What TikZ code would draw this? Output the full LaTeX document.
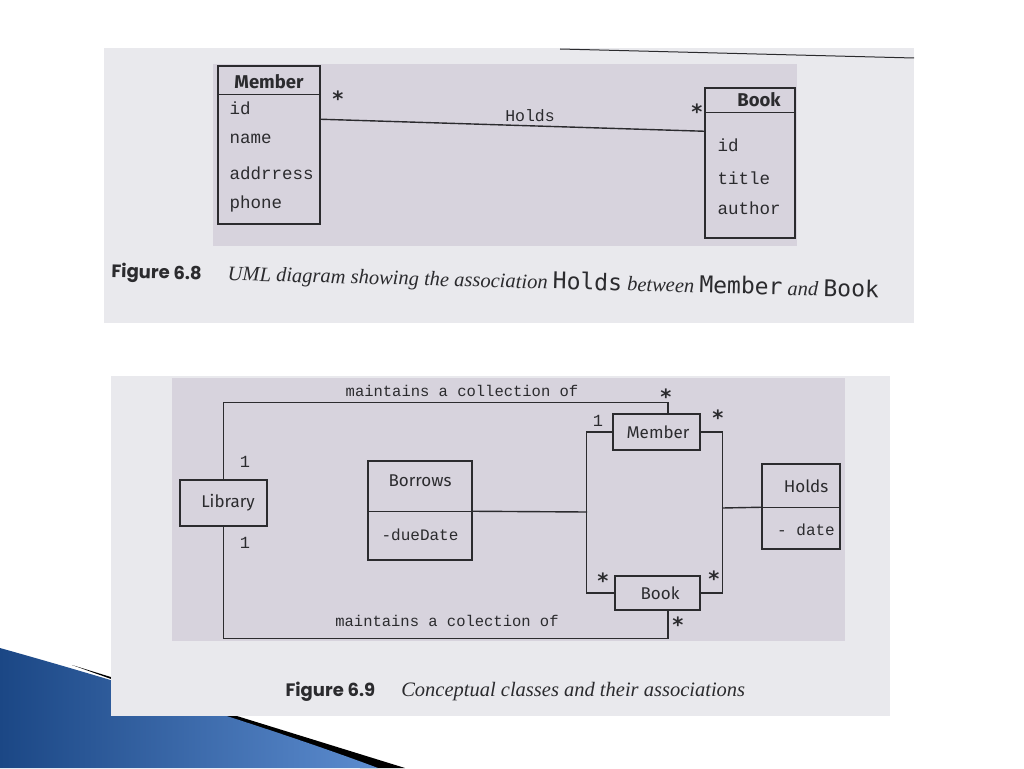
\documentclass[tikz,border=0pt]{standalone}
\usepackage{fontspec}
\setmainfont{Liberation Serif}
\setsansfont{Fira Sans}
\setmonofont{Liberation Mono}
\newfontfamily\capmono{DejaVu Sans Mono}
\newfontfamily\figfont{Poppins}
\usetikzlibrary{shapes}
\usetikzlibrary{arrows}
\definecolor{ink}{HTML}{2B2B2E}
\definecolor{paper}{HTML}{E9E9ED}
\definecolor{hatch}{HTML}{D7D3DD}
\definecolor{swoopA}{HTML}{1B4785}
\definecolor{swoopB}{HTML}{5C8CCF}

\begin{document}
\begin{tikzpicture}[x=1pt,y=-1pt]
	\tikzstyle{cls}=[rectangle,draw=ink,line width=1.5pt,inner sep=0pt]
	\tikzstyle{head}=[text=ink,font=\sffamily\fontsize{17}{17}\selectfont]
	\tikzstyle{bhead}=[text=ink,font=\sffamily\bfseries\fontsize{18.5}{18.5}\selectfont]
	\tikzstyle{attr}=[text=ink,anchor=west,font=\ttfamily\fontsize{17.5}{17.5}\selectfont]
	\tikzstyle{mult}=[text=ink,font=\ttfamily\fontsize{17}{17}\selectfont]
	\tikzstyle{star}=[text=ink,inner sep=0pt,font=\capmono\bfseries\fontsize{21}{21}\selectfont]
	\tikzstyle{assoc}=[draw=ink,line width=1.4pt]
	\useasboundingbox (0,0) rectangle (1024,768);

	% slide swoosh
	\fill[black] (72,665) -- (405,768) -- (360,768) -- cycle;
	\shade[left color=swoopA,right color=swoopB] (0,648) .. controls (150,690) and (290,735) .. (378,768) -- (0,768) -- cycle;

	% figure 6.8
	\fill[paper] (104,48) rectangle (914,323);
	\fill[hatch] (213,64) rectangle (797,246);
	\draw[ink,line width=1pt] (560,49) -- (914,58);
	\node[cls,minimum width=102pt,minimum height=158pt] (m1) at (269,145) {};
	\draw[ink,line width=1.5pt] ([yshift=-29pt]m1.north west) -- ([yshift=-29pt]m1.north east);
	\node[bhead] (m1h) at (269,82) {Member};
	\node[attr] (m1a) at (226,108) {id};
	\node[attr] (m1b) at (226,139) {name};
	\node[attr] (m1c) at (226,173) {addrress};
	\node[attr] (m1d) at (226,204) {phone};
	\node[cls,minimum width=90pt,minimum height=150pt] (b1) at (750,163) {};
	\draw[ink,line width=1.5pt] ([yshift=-25pt]b1.north west) -- ([yshift=-25pt]b1.north east);
	\node[bhead] (b1h) at (759,100) {Book};
	\node[attr] (b1a) at (714,145) {id};
	\node[attr] (b1b) at (714,178) {title};
	\node[attr] (b1c) at (714,208) {author};
	\draw[assoc] ([yshift=-54pt]m1.north east) -- ([yshift=-44pt]b1.north west);
	\node[text=ink,font=\ttfamily\fontsize{16.5}{16.5}\selectfont] (hl) at (530,116) {Holds};
	\node[star] (s1) at (338,99) {*};
	\node[star] (s2) at (697,112) {*};
	\node[anchor=west,rotate=-1.5,text=ink,font=\itshape\fontsize{20.5}{20.5}\selectfont] (cap1) at (108,271)
		{{\figfont\upshape\bfseries\fontsize{18}{18}\selectfont Figure 6.8}\hspace{26pt}UML diagram showing the association {\capmono\upshape\fontsize{23}{23}\selectfont Holds} between {\capmono\upshape\fontsize{23}{23}\selectfont Member} and {\capmono\upshape\fontsize{23}{23}\selectfont Book}};

	% figure 6.9
	\fill[paper] (111,376) rectangle (890,716);
	\fill[hatch] (172,378) rectangle (845,641);
	\node[cls,minimum width=87pt,minimum height=46pt] (lib) at (223.5,503) {};
	\node[head] (libt) at (228,503) {Library};
	\node[cls,minimum width=104pt,minimum height=99pt] (bor) at (420,510.5) {};
	\draw[ink,line width=1.5pt] ([yshift=-51pt]bor.north west) -- ([yshift=-51pt]bor.north east);
	\node[head] (bort) at (420,481) {Borrows};
	\node[attr,anchor=center,font=\ttfamily\fontsize{16}{16}\selectfont] (bora) at (420,535) {-dueDate};
	\node[cls,minimum width=87pt,minimum height=36pt] (mem) at (656.5,432) {};
	\node[head] (memt) at (658,432) {Member};
	\node[cls,minimum width=85pt,minimum height=34pt] (book) at (657.5,593) {};
	\node[head] (bookt) at (660,593) {Book};
	\node[cls,minimum width=78pt,minimum height=85pt] (hld) at (801,506.5) {};
	\draw[ink,line width=1.5pt] ([yshift=-44pt]hld.north west) -- ([yshift=-44pt]hld.north east);
	\node[head] (hldt) at (806,486) {Holds};
	\node[attr,anchor=center,font=\ttfamily\fontsize{16}{16}\selectfont] (hlda) at (806,530) {- date};
	\coordinate (lj) at (587,512);
	\coordinate (rj) at (722,508);
	\draw[assoc] (lib.north) -- ++(0,-77) -| ([xshift=11.5pt]mem.north);
	\draw[assoc] (lib.south) -- ++(0,112) -| ([xshift=10.5pt]book.south);
	\draw[assoc] (mem.west) -- ++(-26,0) |- (book.west);
	\draw[assoc] (mem.east) -- ++(22,0) |- (book.east);
	\draw[assoc] ([yshift=-51pt]bor.north east) -- (lj);
	\draw[assoc] (rj) -- ([yshift=-44pt]hld.north west);
	\node[text=ink,font=\ttfamily\fontsize{15.5}{15.5}\selectfont] (mt) at (462,391) {maintains a collection of};
	\node[text=ink,font=\ttfamily\fontsize{15.5}{15.5}\selectfont] (mb) at (447,621) {maintains a colection of};
	\node[mult] (o1) at (245,462) {1};
	\node[mult] (o2) at (245,543) {1};
	\node[mult] (o3) at (598,421) {1};
	\node[star] (s3) at (666,397) {*};
	\node[star] (s4) at (718,418) {*};
	\node[star] (s5) at (603,581) {*};
	\node[star] (s6) at (714,579) {*};
	\node[star] (s7) at (678,625) {*};
	\node[anchor=west,text=ink,font=\itshape\fontsize{20.5}{20.5}\selectfont] (cap2) at (282,692)
		{{\figfont\upshape\bfseries\fontsize{18}{18}\selectfont Figure 6.9}\hspace{26pt}Conceptual classes and their associations};
\end{tikzpicture}
\end{document}
